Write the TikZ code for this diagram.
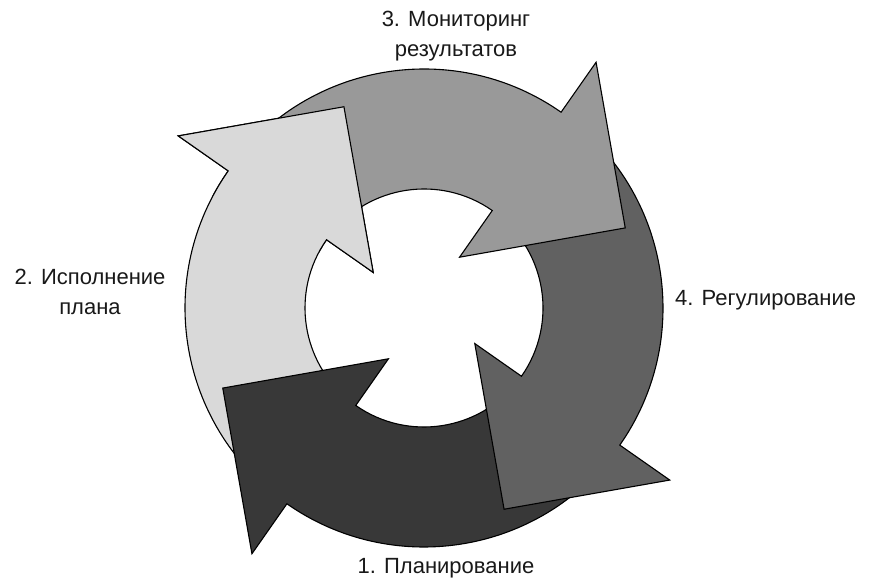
\documentclass[tikz,border=0pt]{standalone}
\usepackage{fontspec}
\setmainfont{Liberation Sans}
\begin{document}
\begin{tikzpicture}[x=1pt,y=1pt,
  arrowshape/.style={draw=black, line width=1.1pt, line join=miter},
  lbl/.style={font=\fontsize{22}{30}\selectfont, align=center, inner sep=0pt, text=black!90}]
\useasboundingbox (0,0) rectangle (869,583);
\fill[white] (0,0) rectangle (869,583);
% ring geometry: centre (424,275), inner r 119, outer r 239
\def\Ri{119}\def\Ro{239}
\newcommand{\cyclearrow}[3]{% tail angle, head angle, fill
  \path[arrowshape, fill=#3]
    (#1:\Ro) arc[start angle=#1, end angle=#2, radius=\Ro]
    -- (#2:300) -- ({#2-33.3}:216.6) -- (#2:62) -- (#2:\Ri)
    arc[start angle=#2, end angle=#1, radius=\Ri] -- cycle;}
\begin{scope}[shift={(424,275)}]
  \cyclearrow{232}{145}{black!15}
  \cyclearrow{-38}{-125}{black!78}
  \cyclearrow{52}{-35}{black!62}
  \cyclearrow{142}{55}{black!40}
  \begin{scope}
    \clip (0,0) -- (152:420) arc[start angle=152, end angle=100, radius=420] -- cycle;
    \cyclearrow{232}{145}{black!15}
  \end{scope}
\end{scope}
\node[lbl] (mon) at (456,547) {3. Мониторинг\\результатов};
\node[lbl] (isp) at (90,291) {2. Исполнение\\плана};
\node[lbl, anchor=west] (reg) at (675,283) {4. Регулирование};
\node[lbl] (plan) at (446,15) {1. Планирование};
\end{tikzpicture}
\end{document}
